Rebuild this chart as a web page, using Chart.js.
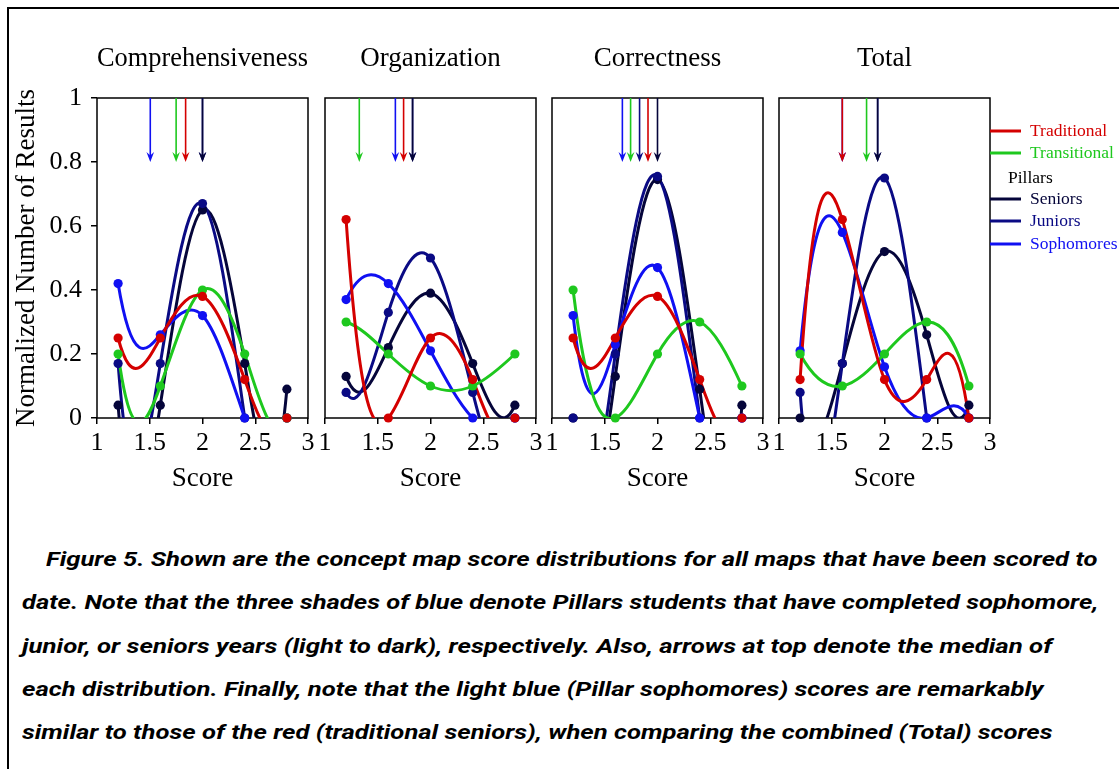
<!DOCTYPE html>
<html>
<head>
<meta charset="utf-8">
<script src="https://cdn.jsdelivr.net/npm/chart.js@4.4.1/dist/chart.umd.min.js"></script>
<style>
  html, body { margin:0; padding:0; background:#fff; width:1119px; height:769px; overflow:hidden; position:relative; }
  #frame { position:absolute; left:7px; top:7px; width:1300px; height:900px; border-left:2px solid #000; border-top:2px solid #000; }
  canvas { position:absolute; top:0; }
  .cl { position:absolute; white-space:nowrap; font-family:Roboto, 'Open Sans', sans-serif; font-weight:700; font-style:italic;
        font-size:20px; line-height:24px; color:#000; transform-origin:0 50%; }
</style>
</head>
<body>
<div id="frame"></div>
<canvas id="c0" width="328" height="520" style="left:0px"></canvas>
<canvas id="c1" width="251" height="520" style="left:305px"></canvas>
<canvas id="c2" width="251" height="520" style="left:532px"></canvas>
<canvas id="c3" width="360" height="520" style="left:759px"></canvas>

<div class="cl" data-w="1051" style="left:46px; top:547px;">Figure 5. Shown are the concept map score distributions for all maps that have been scored to</div>
<div class="cl" data-w="1076" style="left:22px; top:590px;">date. Note that the three shades of blue denote Pillars students that have completed sophomore,</div>
<div class="cl" data-w="1030" style="left:22px; top:634px;">junior, or seniors years (light to dark), respectively. Also, arrows at top denote the median of</div>
<div class="cl" data-w="1021" style="left:22px; top:677px;">each distribution. Finally, note that the light blue (Pillar sophomores) scores are remarkably</div>
<div class="cl" data-w="1031" style="left:22px; top:720px;">similar to those of the red (traditional seniors), when comparing the combined (Total) scores</div>

<script>
// ---------------- DATA ----------------
const scores = [1.2, 1.6, 2.0, 2.4, 2.8];
const panelTitles = ['Comprehensiveness', 'Organization', 'Correctness', 'Total'];
const xTickValues = [1, 1.5, 2, 2.5, 3];
const yTickValues = [0, 0.2, 0.4, 0.6, 0.8, 1];

// one row per panel (Comprehensiveness, Organization, Correctness, Total)
const traditional = [
  [0.25, 0.25, 0.38, 0.12, 0.00],
  [0.62, 0.00, 0.25, 0.12, 0.00],
  [0.25, 0.25, 0.38, 0.12, 0.00],
  [0.12, 0.62, 0.12, 0.12, 0.00]
];
const transitional = [
  [0.20, 0.10, 0.40, 0.20, 0.00],
  [0.30, 0.20, 0.10, 0.10, 0.20],
  [0.40, 0.00, 0.20, 0.30, 0.10],
  [0.20, 0.10, 0.20, 0.30, 0.10]
];
const sophomores = [
  [0.42, 0.26, 0.32, 0.00, 0.00],
  [0.37, 0.42, 0.21, 0.00, 0.00],
  [0.32, 0.23, 0.47, 0.00, 0.00],
  [0.21, 0.58, 0.16, 0.00, 0.00]
];
const juniors = [
  [0.17, 0.17, 0.67, 0.00, 0.00],
  [0.08, 0.33, 0.50, 0.08, 0.00],
  [0.00, 0.20, 0.755, 0.00, 0.00],
  [0.08, 0.17, 0.75, 0.00, 0.00]
];
const seniors = [
  [0.04, 0.04, 0.65, 0.17, 0.09],
  [0.13, 0.22, 0.39, 0.17, 0.04],
  [0.00, 0.13, 0.745, 0.09, 0.04],
  [0.00, 0.17, 0.52, 0.26, 0.04]
];
// medians (arrows at top), per panel
const medianTraditional  = [1.84, 1.745, 1.91, 1.60];
const medianTransitional = [1.75, 1.325, 1.745, 1.83];
const medianSophomores   = [1.505, 1.667, 1.667, 1.60];
const medianJuniors      = [2.00, 1.83, 1.83, 1.935];
const medianSeniors      = [2.00, 1.83, 2.00, 1.935];

// ---------------- STYLE ----------------
const SERIF = "'Liberation Serif', 'Times New Roman', serif";
const COLORS = { Traditional:'#d40000', Transitional:'#1ec81e', Sophomores:'#1010f2', Juniors:'#0a0a84', Seniors:'#05053a' };
const seriesList = [   // first = drawn on top
  { name:'Traditional',  values: traditional,  median: medianTraditional },
  { name:'Transitional', values: transitional, median: medianTransitional },
  { name:'Sophomores',   values: sophomores,   median: medianSophomores },
  { name:'Juniors',      values: juniors,      median: medianJuniors },
  { name:'Seniors',      values: seniors,      median: medianSeniors }
];
const arrowOrder = ['Juniors', 'Seniors', 'Sophomores', 'Transitional', 'Traditional'];
const legendRows = [
  { text:'Traditional',  series:'Traditional' },
  { text:'Transitional', series:'Transitional' },
  { text:'Pillars',      series:null },
  { text:'Seniors',      series:'Seniors' },
  { text:'Juniors',      series:'Juniors' },
  { text:'Sophomores',   series:'Sophomores' }
];

Chart.defaults.font.family = SERIF;
Chart.defaults.color = '#000';

// 4th-order polynomial curve through the 5 points (as in the original figure),
// expressed as cubic Bezier control points on Chart.js's own line element.
const polyCurve = {
  id: 'polyCurve',
  beforeDatasetDraw(chart, args) {
    const ds = chart.data.datasets[args.index];
    if (!ds.polyFit) return;
    const line = args.meta.dataset;
    const pts = line.points;
    const n = pts.length;
    const X = pts.map(p => p.x), Y = pts.map(p => p.y);
    const P = x => {
      let s = 0;
      for (let i = 0; i < n; i++) {
        let L = 1;
        for (let k = 0; k < n; k++) if (k !== i) L *= (x - X[k]) / (X[i] - X[k]);
        s += Y[i] * L;
      }
      return s;
    };
    const d = x => (P(x + 0.01) - P(x - 0.01)) / 0.02;
    for (let i = 0; i < n; i++) {
      const m = d(X[i]);
      const hp = i > 0 ? X[i] - X[i - 1] : 0;
      const hn = i < n - 1 ? X[i + 1] - X[i] : 0;
      pts[i].cp1x = X[i] - hp / 3; pts[i].cp1y = Y[i] - m * hp / 3;
      pts[i].cp2x = X[i] + hn / 3; pts[i].cp2y = Y[i] + m * hn / 3;
    }
    line._pointsUpdated = true;
    line._path = undefined;
  }
};

const frameBox = {
  id: 'frameBox',
  beforeDatasetsDraw(chart) {
    const { ctx, chartArea: a } = chart;
    ctx.save();
    ctx.strokeStyle = '#000';
    ctx.lineWidth = 1.5;
    ctx.strokeRect(a.left, a.top, a.right - a.left, a.bottom - a.top);
    ctx.restore();
  }
};

const medianArrows = {
  id: 'medianArrows',
  afterDatasetsDraw(chart) {
    const { ctx } = chart;
    const xs = chart.scales.x, ys = chart.scales.y;
    const p = chart.options.plugins.medianArrows.panel;
    const yTop = ys.getPixelForValue(1), yTip = ys.getPixelForValue(0.8);
    ctx.save();
    arrowOrder.forEach(name => {
      const s = seriesList.find(q => q.name === name);
      const x = xs.getPixelForValue(s.median[p]);
      ctx.strokeStyle = COLORS[name];
      ctx.fillStyle = COLORS[name];
      ctx.lineWidth = 1.6;
      ctx.beginPath(); ctx.moveTo(x, yTop); ctx.lineTo(x, yTip - 4); ctx.stroke();
      ctx.beginPath();
      ctx.moveTo(x, yTip);
      ctx.lineTo(x - 3.8, yTip - 10);
      ctx.lineTo(x, yTip - 6.5);
      ctx.lineTo(x + 3.8, yTip - 10);
      ctx.closePath(); ctx.fill();
    });
    ctx.restore();
  }
};

const sideLegend = {
  id: 'sideLegend',
  afterDraw(chart) {
    if (!chart.options.plugins.sideLegend.show) return;
    const { ctx, chartArea: a } = chart;
    const rowY = [131, 153, 178, 199, 221, 244];
    ctx.save();
    ctx.font = '17.5px ' + SERIF;
    ctx.textBaseline = 'middle';
    legendRows.forEach((r, k) => {
      const y = rowY[k];
      if (r.series) {
        ctx.strokeStyle = COLORS[r.series];
        ctx.lineWidth = 3;
        ctx.beginPath(); ctx.moveTo(a.right, y); ctx.lineTo(a.right + 31, y); ctx.stroke();
        ctx.fillStyle = COLORS[r.series];
        ctx.fillText(r.text, a.right + 40, y);
      } else {
        ctx.fillStyle = '#000';
        ctx.fillText(r.text, a.right + 18, y);
      }
    });
    ctx.restore();
  }
};

function buildChart(p) {
  const first = p === 0, last = p === 3;
  const datasets = [];
  seriesList.forEach(s => datasets.push({
    label: s.name + ' points',
    data: s.values[p].map((v, k) => ({ x: scores[k], y: v })),
    showLine: false, pointRadius: 4.6, pointHoverRadius: 4.6, pointBorderWidth: 0,
    pointBackgroundColor: COLORS[s.name], borderColor: COLORS[s.name], clip: false
  }));
  seriesList.forEach(s => datasets.push({
    label: s.name,
    data: s.values[p].map((v, k) => ({ x: scores[k], y: v })),
    showLine: true, borderColor: COLORS[s.name], borderWidth: 3, pointRadius: 0, pointHoverRadius: 0,
    tension: 0.4, fill: false, polyFit: true
  }));

  const tickFont = { family: SERIF, size: 26, lineHeight: 1 };
  const labelFont = { family: SERIF, size: 27, weight: 'normal', lineHeight: 1 };
  new Chart(document.getElementById('c' + p), {
    type: 'line',
    data: { datasets },
    plugins: [polyCurve, frameBox, medianArrows, sideLegend],
    options: {
      responsive: false, animation: false, events: [],
      layout: { padding: { left: first ? 0 : 20, right: last ? 129 : 20, top: 0, bottom: 0 } },
      plugins: {
        legend: { display: false }, tooltip: { enabled: false },
        title: { display: true, text: panelTitles[p], fullSize: false, color: '#000',
                 font: labelFont, padding: { top: 45.5, bottom: 25.5 } },
        medianArrows: { panel: p },
        sideLegend: { show: last }
      },
      scales: {
        x: {
          type: 'linear', min: 1, max: 3,
          afterBuildTicks: s => { s.ticks = xTickValues.map(v => ({ value: v })); },
          afterFit: s => { s.height = 102; },
          border: { display: false },
          grid: { drawOnChartArea: false, drawTicks: true, tickLength: 6, color: '#000', lineWidth: 1.5 },
          ticks: { font: tickFont, color: '#000', padding: 6, maxRotation: 0, autoSkip: false,
                   callback: v => String(v) },
          title: { display: true, text: 'Score', color: '#000', font: labelFont,
                   padding: { top: 0, bottom: 27.5 } }
        },
        y: {
          type: 'linear', min: 0, max: 1, display: first,
          afterBuildTicks: s => { s.ticks = yTickValues.map(v => ({ value: v })); },
          afterFit: s => { s.width = first ? 97 : 0; },
          border: { display: false },
          grid: { drawOnChartArea: false, drawTicks: true, tickLength: 6, color: '#000', lineWidth: 1.5 },
          ticks: { font: tickFont, color: '#000', padding: 9, autoSkip: false,
                   callback: v => String(Number(v.toFixed(1))) },
          title: { display: true, text: 'Normalized Number of Results', color: '#000',
                   font: labelFont, padding: { top: 13.5, bottom: 0 } }
        }
      }
    }
  });
}
[0, 1, 2, 3].forEach(buildChart);

// fit caption lines to the widths of the original
document.querySelectorAll('.cl').forEach(el => {
  const w = el.offsetWidth;
  el.style.transform = 'scaleX(' + (Number(el.dataset.w) / w) + ')';
});
</script>
</body>
</html>
